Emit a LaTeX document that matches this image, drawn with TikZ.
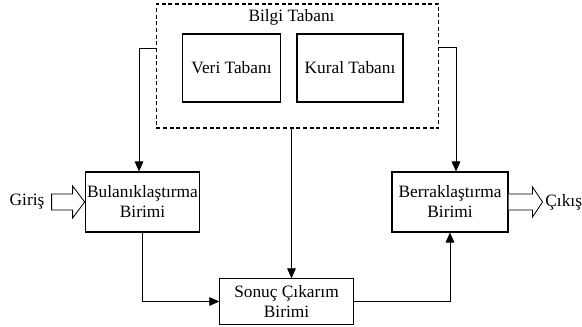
\documentclass[tikz,border=0pt]{standalone}
\usepackage{fontspec}
\setmainfont{Liberation Serif}
\usetikzlibrary{positioning}
\usetikzlibrary{calc}
\usetikzlibrary{arrows.meta}
\tikzset{
  box/.style       = { rectangle, inner sep=0pt, align=center },
  border/.style    = { line width=0.8pt, draw=black },
  unit/.style      = { box, border },
  base/.style      = { box, draw=black, line width=0.8pt, dash pattern=on 3pt off 2pt },
  label/.style     = { box },
  hollow/.style    = { line width=0.6pt, draw=black, fill=white },
}

\begin{document}
\begin{tikzpicture}[
  x=0.75pt,y=-0.75pt,
  >={Triangle[length=7.5pt,width=6.5pt]},line width=0.6pt,
  font=\fontsize{13pt}{15pt}\selectfont
]
  \useasboundingbox (0,0) rectangle (582,327);

  \node (bilgi) [base,minimum width=212pt,minimum height=93pt]  at (297.5,66)  {};
  \node (title) [label]                                         at (291.5,17)  {Bilgi Tabanı};
  \node (veri)  [unit,minimum width=73pt,minimum height=51pt]   at (231.5,68)  {Veri Tabanı};
  \node (kural) [unit,minimum width=79.5pt,minimum height=51pt] at (350,68)    {Kural Tabanı};

  \node (bul)   [unit,minimum width=86pt,minimum height=45pt]   at (142.5,202) {Bulanıklaştırma\\Birimi};
  \node (ber)   [unit,minimum width=87pt,minimum height=45pt]   at (450,202)   {Berraklaştırma\\Birimi};
  \node (sonuc) [unit,minimum width=100pt,minimum height=34pt]  at (286.5,301.5) {Sonuç Çıkarım\\Birimi};

  \node (giris) [label]             at (27,202)  {Giriş};
  \node (cikis) [label,anchor=west] at (545,202) {Çıkış};

  % knowledge base to the units
  \draw [->] ($ (bilgi.west) + (0,-18) $) -| ([xshift=-2.6pt]bul.north);
  \draw [->] ($ (bilgi.east) + (0,-19) $) -| ([xshift=4.5pt]ber.north);
  \draw [->] (title |- bilgi.south) -- (title |- sonuc.north);

  \draw [->] (bul) |- (sonuc);
  \draw [->] (sonuc) -| (ber);

  % input and output
  \draw [hollow] (bul.west) -- ++(-12,-16) -- ++(0,8) -- ++(-21,0)
        -- ++(0,16) -- ++(21,0) -- ++(0,8) -- cycle;
  \draw [hollow] (ber.east) ++(0,-8) -- ++(24,0) -- ++(0,-7) -- ++(10,15)
        -- ++(-10,15) -- ++(0,-7) -- ++(-24,0);
\end{tikzpicture}
\end{document}
